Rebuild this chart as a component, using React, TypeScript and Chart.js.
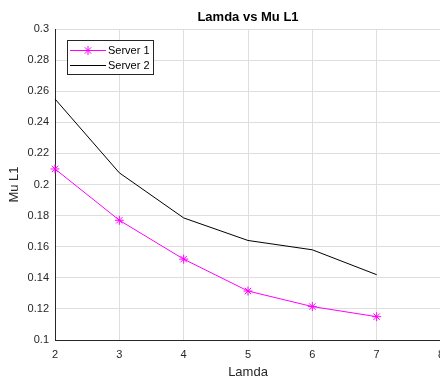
import { useEffect, useRef } from "react";
import { Chart, registerables } from "chart.js";

Chart.register(...registerables);

// ---- data ----
const lamda = [2, 3, 4, 5, 6, 7];
const server1 = [0.21, 0.177, 0.152, 0.1315, 0.1215, 0.115];
const server2 = [0.255, 0.2075, 0.1785, 0.164, 0.158, 0.142];
const seriesLabels = ["Server 1", "Server 2"];
const chartTitle = "Lamda vs Mu L1";
const xAxisTitle = "Lamda";
const yAxisTitle = "Mu L1";
const xRange = [2, 8];
const yRange = [0.1, 0.3];

const FONT = "'Liberation Sans', Arial, Helvetica, sans-serif";
const MAGENTA = "#ff00ff";
const AXIS = "#262626";
const GRID = "#dedede";

function drawStar(ctx: CanvasRenderingContext2D, x: number, y: number, r: number) {
  ctx.beginPath();
  ctx.moveTo(x - r, y);
  ctx.lineTo(x + r, y);
  ctx.moveTo(x, y - r);
  ctx.lineTo(x, y + r);
  const d = r * Math.SQRT1_2;
  ctx.moveTo(x - d, y - d);
  ctx.lineTo(x + d, y + d);
  ctx.moveTo(x - d, y + d);
  ctx.lineTo(x + d, y - d);
  ctx.stroke();
}

const insideLegend = {
  id: "insideLegend",
  afterDatasetsDraw(chart: any) {
    const { ctx, chartArea } = chart;
    const x0 = Math.round(chartArea.left + 12);
    const y0 = Math.round(chartArea.top + 11);
    const w = 86;
    const h = 34;
    ctx.save();
    ctx.fillStyle = "#ffffff";
    ctx.fillRect(x0, y0, w, h);
    ctx.strokeStyle = AXIS;
    ctx.lineWidth = 1;
    ctx.strokeRect(x0 + 0.5, y0 + 0.5, w, h);
    chart.data.datasets.forEach((ds: any, i: number) => {
      const y = y0 + 10.5 + i * 15;
      ctx.strokeStyle = ds.borderColor;
      ctx.lineWidth = 1;
      ctx.beginPath();
      ctx.moveTo(x0 + 3, y);
      ctx.lineTo(x0 + 39, y);
      ctx.stroke();
      if (ds.pointRadius > 0) {
        drawStar(ctx, x0 + 21, y, ds.pointRadius);
      }
      ctx.fillStyle = "#000000";
      ctx.font = `11px ${FONT}`;
      ctx.textBaseline = "middle";
      ctx.textAlign = "left";
      ctx.fillText(ds.label, x0 + 41, y);
    });
    ctx.restore();
  },
};

export default function App() {
  const ref = useRef<HTMLCanvasElement | null>(null);

  useEffect(() => {
    if (!ref.current) return;
    const chart = new Chart(ref.current, {
      type: "line",
      data: {
        datasets: [
          {
            label: seriesLabels[0],
            data: lamda.map((x, i) => ({ x, y: server1[i] })),
            borderColor: MAGENTA,
            backgroundColor: MAGENTA,
            borderWidth: 1,
            pointStyle: "star",
            pointRadius: 4.5,
            pointBorderWidth: 1,
            pointBorderColor: MAGENTA,
            tension: 0,
            clip: false as any,
          },
          {
            label: seriesLabels[1],
            data: lamda.map((x, i) => ({ x, y: server2[i] })),
            borderColor: "#000000",
            backgroundColor: "#000000",
            borderWidth: 1,
            pointRadius: 0,
            tension: 0,
            clip: false as any,
          },
        ],
      },
      options: {
        animation: false,
        responsive: false,
        devicePixelRatio: 1,
        layout: { padding: { left: 0, top: 0, right: 19, bottom: 0 } },
        plugins: {
          legend: { display: false },
          tooltip: { enabled: false },
          title: {
            display: true,
            text: chartTitle,
            fullSize: false,
            color: "#000000",
            font: { family: FONT, size: 13, weight: "bold" },
            padding: { top: 9.5, bottom: 3.9 },
          },
        },
        scales: {
          x: {
            type: "linear",
            min: xRange[0],
            max: xRange[1],
            afterFit: (scale: any) => {
              scale.height = 41;
            },
            ticks: {
              stepSize: 1,
              color: AXIS,
              padding: 8,
              autoSkip: false,
              maxRotation: 0,
              font: { family: FONT, size: 11 },
            },
            grid: { color: GRID, drawTicks: false, lineWidth: 1 },
            border: { color: AXIS, width: 1 },
            title: {
              display: true,
              text: xAxisTitle,
              color: AXIS,
              font: { family: FONT, size: 13 },
              padding: { top: 0, bottom: 0.5 },
            },
          },
          y: {
            type: "linear",
            min: yRange[0],
            max: yRange[1],
            afterFit: (scale: any) => {
              scale.width = 55;
            },
            ticks: {
              stepSize: 0.02,
              color: AXIS,
              padding: 6,
              font: { family: FONT, size: 11 },
              callback: (v: any) => String(Number(Number(v).toFixed(2))),
            },
            grid: { color: GRID, drawTicks: false, lineWidth: 1 },
            border: { color: AXIS, width: 1 },
            title: {
              display: true,
              text: yAxisTitle,
              color: AXIS,
              font: { family: FONT, size: 13 },
              padding: { top: 7, bottom: 0 },
            },
          },
        },
      },
      plugins: [insideLegend],
    });
    return () => chart.destroy();
  }, []);

  return (
    <div
      style={{
        position: "fixed",
        left: 0,
        top: 0,
        width: 440,
        height: 381,
        overflow: "hidden",
        background: "#ffffff",
      }}
    >
      <canvas
        ref={ref}
        width={460}
        height={381}
        style={{ display: "block", width: 460, height: 381 }}
      />
    </div>
  );
}
